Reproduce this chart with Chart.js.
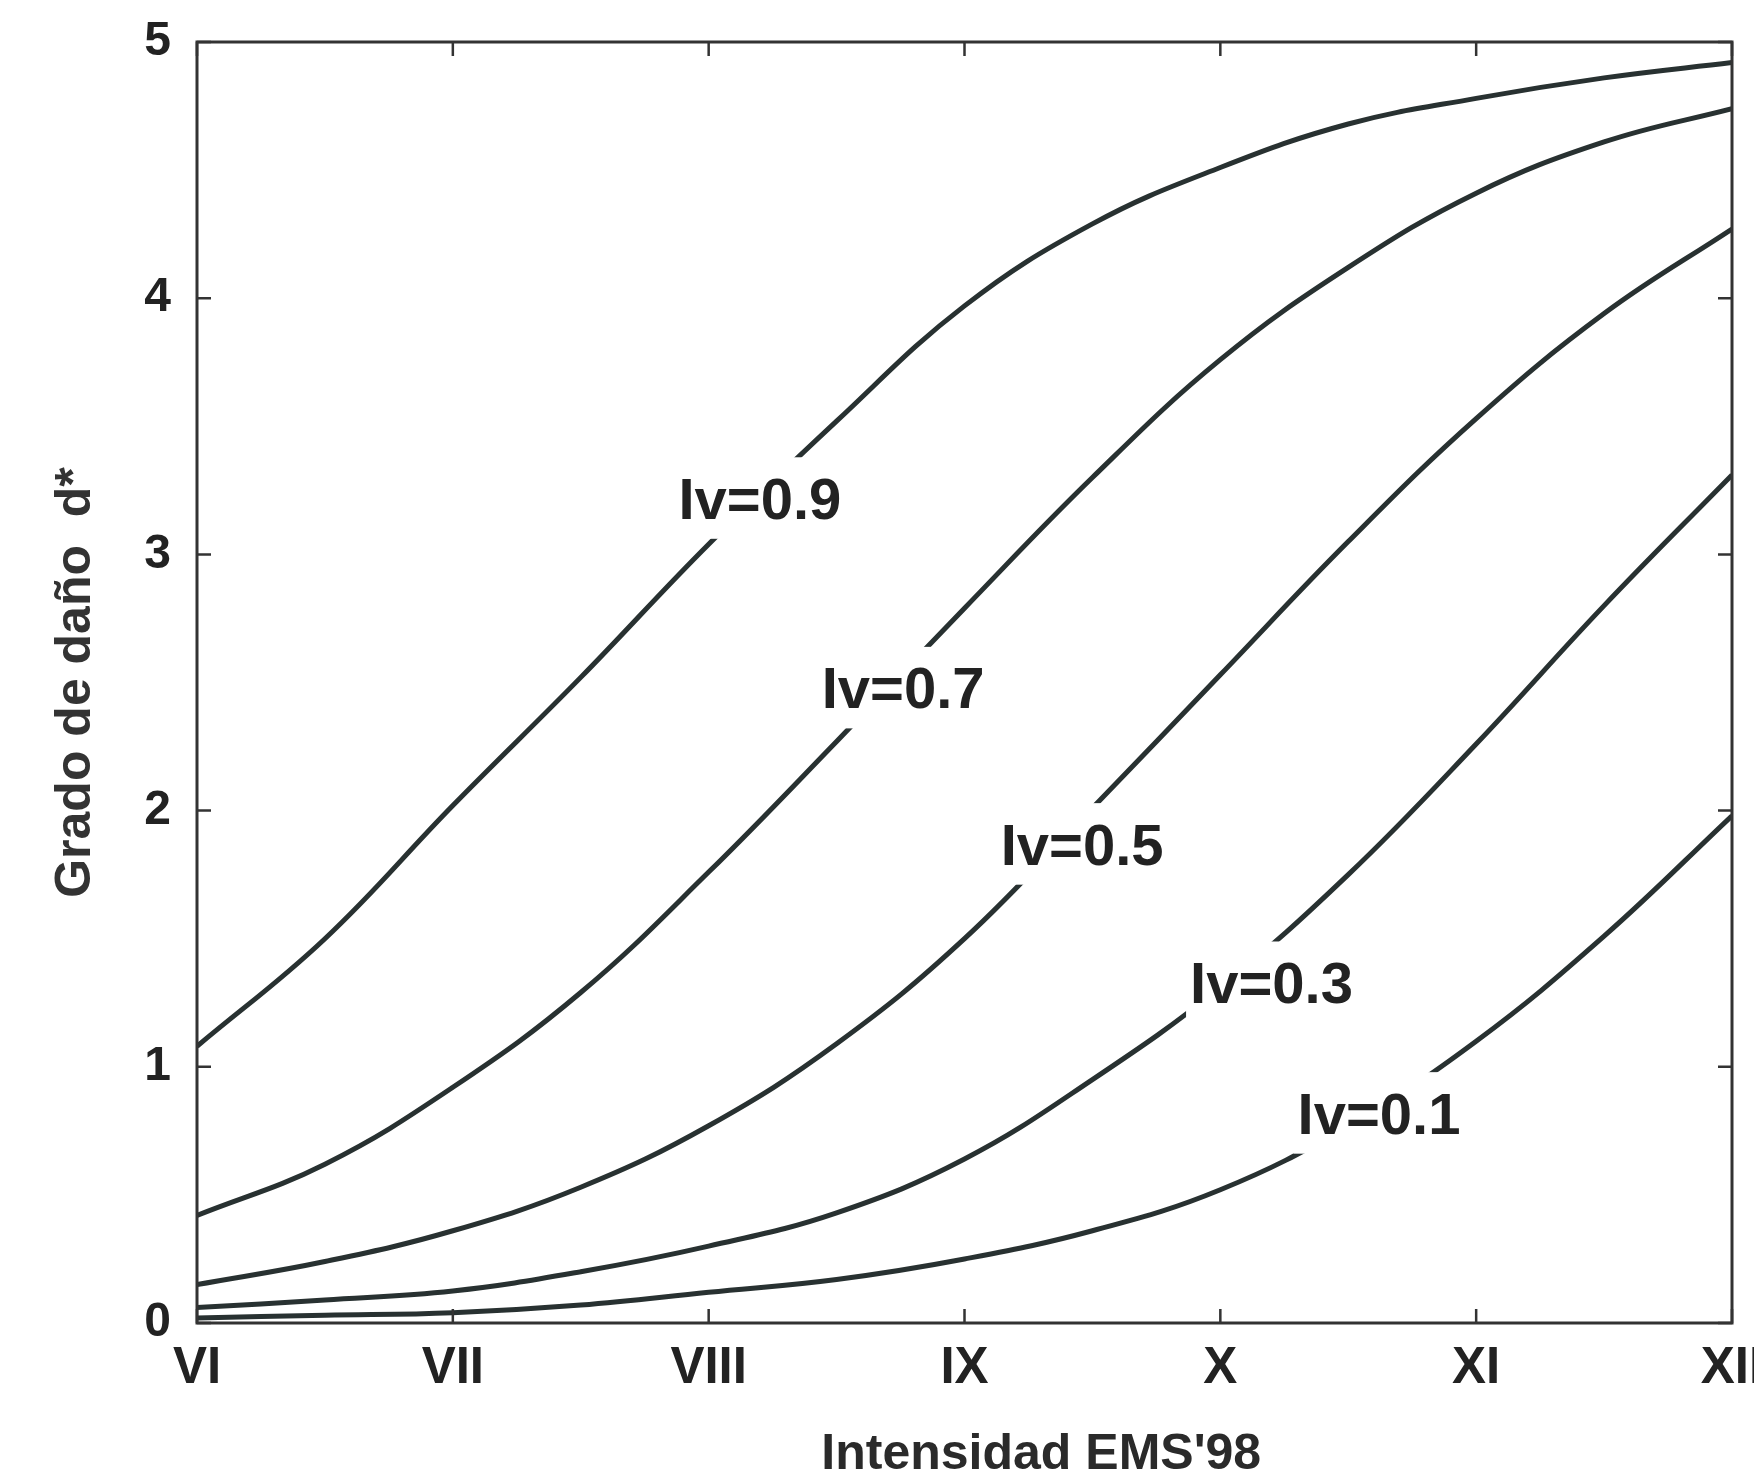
<!DOCTYPE html>
<html>
<head>
<meta charset="utf-8">
<title>Grado de daño vs Intensidad EMS'98</title>
<script src="https://cdn.jsdelivr.net/npm/chart.js@4.4.1/dist/chart.umd.min.js"></script>
<style>
  html, body { margin: 0; padding: 0; background: #ffffff; }
  #chart { display: block; }
</style>
</head>
<body>
<canvas id="chart" width="1754" height="1484"></canvas>
<script>
// intensity (EMS'98 degree) sampled every half degree
const intensity = [6, 6.5, 7, 7.5, 8, 8.5, 9, 9.5, 10, 10.5, 11, 11.5, 12];
const romanTicks = ["VI", "VII", "VIII", "IX", "X", "XI", "XII"];

// mean damage grade d*
const iv09 = [1.08, 1.50, 2.02, 2.52, 3.04, 3.52, 3.97, 4.29, 4.51, 4.68, 4.78, 4.86, 4.92];
const iv07 = [0.42, 0.62, 0.92, 1.29, 1.76, 2.27, 2.79, 3.30, 3.76, 4.12, 4.41, 4.61, 4.74];
const iv05 = [0.15, 0.24, 0.36, 0.53, 0.77, 1.09, 1.50, 2.01, 2.53, 3.05, 3.53, 3.94, 4.27];
const iv03 = [0.06, 0.09, 0.125, 0.20, 0.30, 0.43, 0.64, 0.95, 1.31, 1.75, 2.26, 2.80, 3.31];
const iv01 = [0.02, 0.03, 0.04, 0.07, 0.12, 0.17, 0.25, 0.36, 0.52, 0.77, 1.10, 1.51, 1.98];

const curveNames = ["Iv=0.9", "Iv=0.7", "Iv=0.5", "Iv=0.3", "Iv=0.1"];
const curveValues = [iv09, iv07, iv05, iv03, iv01];

// where each inline label sits (data coordinates)
const labelX = [8.20, 8.76, 9.46, 10.20, 10.62];
const labelY = [3.22, 2.48, 1.87, 1.33, 0.82];

const lineColor = "#283131";
const textColor = "#222222";
const fontFamily = "'Liberation Sans', Arial, sans-serif";

function toPoints(values) {
  return intensity.map((x, i) => ({ x: x, y: values[i] }));
}

const datasets = curveValues.map((values, i) => ({
  label: curveNames[i],
  data: toPoints(values),
  borderColor: lineColor,
  borderWidth: 5,
  pointRadius: 0,
  fill: false,
  tension: 0.4,
}));

// inline curve labels on a white box that breaks the line
const curveLabels = {
  id: "curveLabels",
  afterDatasetsDraw(chart) {
    const ctx = chart.ctx;
    const xs = chart.scales.x;
    const ys = chart.scales.y;
    const size = 58;
    const capH = size * 0.716;
    ctx.save();
    ctx.font = `bold ${size}px ${fontFamily}`;
    ctx.textAlign = "center";
    ctx.textBaseline = "alphabetic";
    curveNames.forEach((name, i) => {
      const cx = xs.getPixelForValue(labelX[i]);
      const cy = ys.getPixelForValue(labelY[i]);
      const w = ctx.measureText(name).width;
      ctx.fillStyle = "#ffffff";
      ctx.fillRect(cx - w / 2 - 4, cy - capH / 2 - 20, w + 8, capH + 40);
      ctx.fillStyle = textColor;
      ctx.fillText(name, cx, cy + capH / 2);
    });
    ctx.restore();
  },
};

// box frame with inward ticks on all four sides, plus x title
const frame = {
  id: "frame",
  afterDraw(chart) {
    const ctx = chart.ctx;
    const { left, right, top, bottom } = chart.chartArea;
    const xs = chart.scales.x;
    const ys = chart.scales.y;
    const tl = 14;
    ctx.save();
    ctx.strokeStyle = "#333333";
    ctx.lineWidth = 3;
    ctx.strokeRect(left, top, right - left, bottom - top);
    ctx.lineWidth = 2.5;
    ctx.beginPath();
    xs.ticks.forEach((t) => {
      const px = xs.getPixelForValue(t.value);
      ctx.moveTo(px, bottom);
      ctx.lineTo(px, bottom - tl);
      ctx.moveTo(px, top);
      ctx.lineTo(px, top + tl);
    });
    ys.ticks.forEach((t) => {
      const py = ys.getPixelForValue(t.value);
      ctx.moveTo(left, py);
      ctx.lineTo(left + tl, py);
      ctx.moveTo(right, py);
      ctx.lineTo(right - tl, py);
    });
    ctx.stroke();

    ctx.fillStyle = "#2a2a2a";
    ctx.font = `bold 50px ${fontFamily}`;
    ctx.textAlign = "center";
    ctx.textBaseline = "middle";
    ctx.fillText("Intensidad EMS'98", xs.getPixelForValue(9.3), 1455);
    ctx.restore();
  },
};

const chart = new Chart(document.getElementById("chart"), {
  type: "line",
  data: { datasets: datasets },
  options: {
    responsive: false,
    animation: false,
    events: [],
    layout: {
      autoPadding: false,
      padding: { left: 0, right: 22, top: 42, bottom: 0 },
    },
    plugins: {
      legend: { display: false },
      tooltip: { enabled: false },
    },
    scales: {
      x: {
        type: "linear",
        min: 6,
        max: 12,
        grid: { display: false, drawTicks: false },
        border: { display: false },
        ticks: {
          stepSize: 1,
          autoSkip: false,
          maxRotation: 0,
          padding: 15,
          color: textColor,
          font: { family: fontFamily, size: 51, weight: "bold" },
          callback: (v) => romanTicks[v - 6],
        },
        afterFit: (scale) => {
          // fixed band under the plot; let the last label run off the edge
          scale.height = 161;
          scale.paddingLeft = 0;
          scale.paddingRight = 0;
        },
      },
      y: {
        min: 0,
        max: 5,
        grid: { display: false, drawTicks: false },
        border: { display: false },
        ticks: {
          stepSize: 1,
          padding: 26,
          color: textColor,
          font: { family: fontFamily, size: 48, weight: "bold" },
        },
        title: {
          display: true,
          text: "Grado de daño  d*",
          color: "#333333",
          padding: { top: 46, bottom: 0 },
          font: { family: fontFamily, size: 50, weight: "bold" },
        },
        afterFit: (scale) => {
          scale.width = 197;
          scale.paddingTop = 0;
          scale.paddingBottom = 0;
        },
      },
    },
  },
  plugins: [curveLabels, frame],
});
</script>
</body>
</html>
